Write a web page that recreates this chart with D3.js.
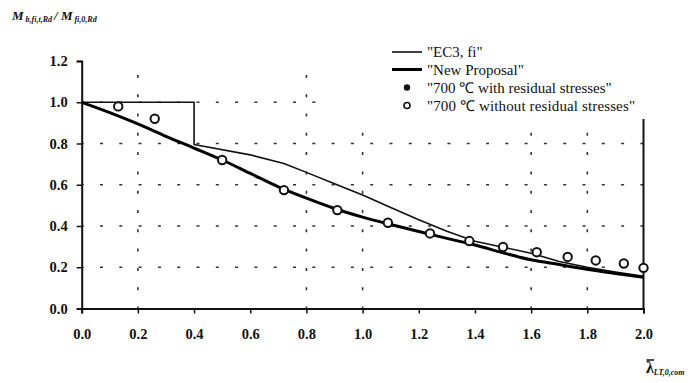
<!DOCTYPE html>
<html>
<head>
<meta charset="utf-8">
<script src="https://cdn.jsdelivr.net/npm/d3@7/dist/d3.min.js"></script>
<style>
  html, body { margin: 0; padding: 0; background: #fff; }
  svg { display: block; }
  text { font-family: "Liberation Serif", "Times New Roman", serif; fill: #111; }
</style>
</head>
<body>
<svg id="chart" width="698" height="383"></svg>
<script>
// Slenderness values and resistance ratios
const ec3Lambda = [0, 0.4, 0.4, 0.6, 0.72, 0.8, 0.9, 1.0, 1.1, 1.2, 1.3, 1.4, 1.5, 1.6, 1.7, 1.8, 1.9, 2.0];
const ec3Ratio  = [1.0, 1.0, 0.795, 0.745, 0.703, 0.66, 0.605, 0.55, 0.49, 0.43, 0.375, 0.326, 0.297, 0.268, 0.228, 0.2, 0.177, 0.156];

const proposalLambda = [0, 0.1, 0.2, 0.3, 0.4, 0.5, 0.6, 0.7, 0.8, 0.9, 1.0, 1.1, 1.2, 1.3, 1.4, 1.5, 1.6, 1.7, 1.8, 1.9, 2.0];
const proposalRatio  = [1.0, 0.95, 0.895, 0.835, 0.778, 0.72, 0.655, 0.59, 0.535, 0.485, 0.443, 0.407, 0.373, 0.34, 0.308, 0.27, 0.236, 0.213, 0.19, 0.17, 0.151];

const withResLambda = [];
const withResRatio  = [];

const withoutResLambda = [0.13, 0.26, 0.5, 0.72, 0.91, 1.09, 1.24, 1.38, 1.5, 1.62, 1.73, 1.83, 1.93, 2.0];
const withoutResRatio  = [0.98, 0.92, 0.72, 0.574, 0.477, 0.416, 0.364, 0.327, 0.298, 0.273, 0.25, 0.233, 0.218, 0.197];

const legendLabels = ['"EC3, fi"', '"New Proposal"', '"700 \u2103 with residual stresses"', '"700 \u2103 without residual stresses"'];

const xTicks = [0, 0.2, 0.4, 0.6, 0.8, 1.0, 1.2, 1.4, 1.6, 1.8, 2.0];
const yTicks = [0, 0.2, 0.4, 0.6, 0.8, 1.0, 1.2];
const xGrid = [0.2, 0.8, 1.0, 1.6, 1.8];
const yGrid = [0.2, 0.4, 0.6, 0.8, 1.0];

const svg = d3.select("#chart");
const x = d3.scaleLinear().domain([0, 2]).range([81.7, 643.5]);
const y = d3.scaleLinear().domain([0, 1.2]).range([308.5, 61]);

// dotted grid
const grid = svg.append("g").attr("stroke", "#333").attr("stroke-width", 1.6)
  .attr("stroke-dasharray", "3 16.3").attr("stroke-dashoffset", 1);
grid.selectAll("line.h").data(yGrid).join("line").attr("class", "h")
  .attr("x1", x(0)).attr("x2", x(2)).attr("y1", d => y(d)).attr("y2", d => y(d));
grid.selectAll("line.v").data(xGrid).join("line").attr("class", "v")
  .attr("x1", d => x(d)).attr("x2", d => x(d)).attr("y1", y(0)).attr("y2", y(1.2));

// axes
const xAxis = d3.axisBottom(x).tickValues(xTicks).tickFormat(d3.format(".1f")).tickSizeOuter(0).tickSize(5).tickPadding(15);
const yAxis = d3.axisLeft(y).tickValues(yTicks).tickFormat(d3.format(".1f")).tickSizeOuter(0).tickSize(5).tickPadding(9);

const gx = svg.append("g").attr("transform", `translate(0,${y(0)})`).call(xAxis);
const gy = svg.append("g").attr("transform", `translate(${x(0)},0)`).call(yAxis);
[gx, gy].forEach(g => {
  g.select(".domain").attr("stroke", "#111").attr("stroke-width", 2);
  g.selectAll(".tick line").attr("stroke", "#111").attr("stroke-width", 1.5);
  g.selectAll(".tick text").attr("font-family", "Liberation Serif").attr("font-weight", "bold")
    .attr("font-size", 14.5).attr("fill", "#111");
});

// right frame edge
svg.append("line").attr("x1", x(2)).attr("x2", x(2)).attr("y1", y(0)).attr("y2", y(1.2))
  .attr("stroke", "#111").attr("stroke-width", 2);

// curves
const line = d3.line().x(d => x(d[0])).y(d => y(d[1]));
svg.append("path").datum(d3.zip(ec3Lambda, ec3Ratio)).attr("d", line)
  .attr("fill", "none").attr("stroke", "#111").attr("stroke-width", 1.6).attr("stroke-linejoin", "round");
svg.append("path").datum(d3.zip(proposalLambda, proposalRatio)).attr("d", line.curve(d3.curveMonotoneX))
  .attr("fill", "none").attr("stroke", "#000").attr("stroke-width", 3).attr("stroke-linejoin", "round");

// test points
svg.append("g").selectAll("circle").data(d3.zip(withResLambda, withResRatio)).join("circle")
  .attr("cx", d => x(d[0])).attr("cy", d => y(d[1])).attr("r", 4).attr("fill", "#111");
svg.append("g").selectAll("circle").data(d3.zip(withoutResLambda, withoutResRatio)).join("circle")
  .attr("cx", d => x(d[0])).attr("cy", d => y(d[1])).attr("r", 4.2)
  .attr("fill", "#fff").attr("stroke", "#111").attr("stroke-width", 2);

// legend
const lg = svg.append("g");
lg.append("rect").attr("x", 326).attr("y", 34).attr("width", 330).attr("height", 85).attr("fill", "#fff");
const rowY = [52, 69.5, 87.5, 105.5];
legendLabels.forEach((t, i) => {
  const yy = rowY[i];
  if (i === 0) lg.append("line").attr("x1", 392).attr("x2", 422).attr("y1", yy).attr("y2", yy).attr("stroke", "#111").attr("stroke-width", 1.6);
  if (i === 1) lg.append("line").attr("x1", 392).attr("x2", 422).attr("y1", yy).attr("y2", yy).attr("stroke", "#000").attr("stroke-width", 3);
  if (i === 2) lg.append("circle").attr("cx", 407).attr("cy", yy).attr("r", 3.2).attr("fill", "#111");
  if (i === 3) lg.append("circle").attr("cx", 407).attr("cy", yy).attr("r", 3).attr("fill", "#fff").attr("stroke", "#111").attr("stroke-width", 1.6);
  lg.append("text").attr("x", 427).attr("y", yy + 5).attr("font-size", 15).attr("textLength", i === 3 ? 208 : null).text(t);
});

// axis titles
const yt = svg.append("text").attr("x", 12).attr("y", 20).attr("font-style", "italic").attr("font-weight", "bold").attr("font-size", 13);
yt.append("tspan").text("M");
yt.append("tspan").attr("font-size", 8).attr("dx", 2).attr("dy", 2).text("b,fi,t,Rd");
yt.append("tspan").attr("dy", -2).attr("dx", 2).text("/ M");
yt.append("tspan").attr("font-size", 8).attr("dx", 2).attr("dy", 2).text("fi,0,Rd");

const xt = svg.append("text").attr("x", 646).attr("y", 373).attr("font-weight", "bold").attr("font-size", 16);
xt.append("tspan").text("\u03BB");
xt.append("tspan").attr("font-size", 8).attr("font-style", "italic").attr("dy", 2).text("LT,0,com");
svg.append("line").attr("x1", 646.5).attr("x2", 654).attr("y1", 360).attr("y2", 360)
  .attr("stroke", "#111").attr("stroke-width", 1.5);
</script>
</body>
</html>
